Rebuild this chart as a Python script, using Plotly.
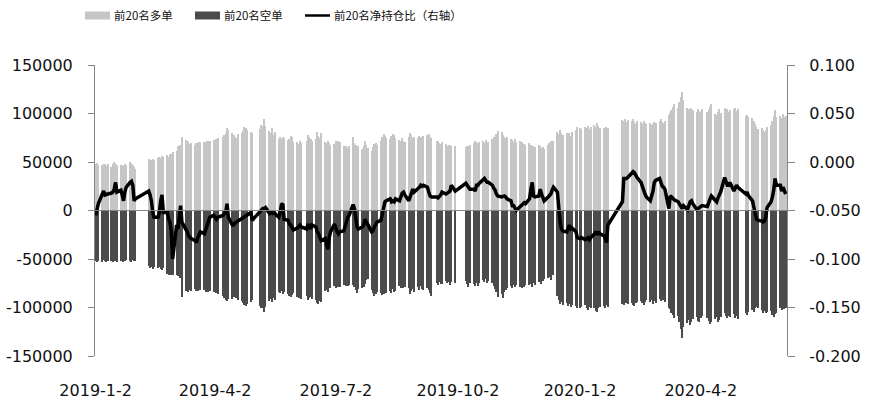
import pandas as pd
import plotly.graph_objects as go

# ---------------- data ----------------
holidays = [
    "2019-02-04", "2019-02-05", "2019-02-06", "2019-02-07", "2019-02-08",
    "2019-04-05", "2019-05-01", "2019-05-02", "2019-05-03", "2019-06-07",
    "2019-09-13", "2019-10-01", "2019-10-02", "2019-10-03", "2019-10-04",
    "2019-10-07", "2020-01-01", "2020-01-24", "2020-01-27", "2020-01-28",
    "2020-01-29", "2020-01-30", "2020-01-31", "2020-04-06", "2020-05-01",
    "2020-05-04", "2020-05-05",
]
all_days = pd.bdate_range("2019-01-02", "2020-06-05")
dates = [d for d in all_days if d.strftime("%Y-%m-%d") not in set(holidays)]

long_pos = [  # 前20名多单
    47500, 48500, 47000,
    46500, 48000, 47500, 46000, 48000,
    45000, 47500, 50500, 49000, 47000,
    46500, 47000, 45500, 47500, 47000,
    49500, 48500, 47000, 45000, 42500,
    53000, 51500, 52500, 53500, 52000,
    54500, 55000, 54000, 56500, 55500,
    57000, 55500, 58500, 58000, 60500,
    61500, 66000, 65500, 68000, 76000,
    72500, 71500, 70500, 69000, 70000,
    68000, 70000, 69500, 70500, 71000,
    70500, 71000, 71500, 72000, 71500,
    73000, 72500, 74000, 75000,
    76000, 78000, 80000, 85000, 83000,
    79500, 78000, 76000, 75000, 79000,
    80000, 82000, 86000, 85000, 83500,
    81000, 79500,
    84000, 88000, 87500, 94000, 87000,
    82000, 80000, 85000, 78000, 80500,
    74000, 75500, 73500, 76000, 75000,
    72500, 74000, 77000, 75500, 71000,
    70500, 69000, 71500, 70000,
    72000, 78000, 75500, 73500, 72000,
    74000, 81000, 76500, 74500, 80000,
    71000, 70000, 72000, 69500, 68000,
    69000, 71500, 70000, 72000, 70500,
    66000, 65000, 67000, 64500, 66500,
    76000, 70000, 68000, 66000, 67000,
    63000, 66000, 72000, 68000, 64000,
    61000, 65000, 69000, 70000, 68000,
    72000, 76000, 78500, 77000, 75000,
    74000, 76500, 79000, 77500, 75000,
    73000, 71500, 74500, 72000, 70500,
    76000, 80000, 78000, 74500, 75500,
    75000, 77000, 76000, 74000, 76500,
    77500, 79000, 76000, 74500,
    71500, 72000, 70000, 69000, 71000,
    68500, 67000, 68000, 67500, 66000,
    67000,
    65500, 67000, 66000, 67500,
    70000, 72000, 71000, 69500, 70500,
    71500, 70000, 72500, 69000, 71000,
    74000, 76000, 73500, 79000, 82000,
    81000, 78000, 76000, 74500, 76000,
    74000, 72500, 71000, 73500, 70500,
    72000, 70500, 68000, 69000, 67500,
    69500, 68000, 66500, 67000, 65000,
    67500, 66000, 64500, 65500, 63500,
    68000, 70000, 71500, 69500, 72000,
    81000, 79000, 82500, 80000, 78000,
    80000, 78500, 79500, 77000, 80500,
    83000, 86000,
    85500, 84000,
    86500, 85000, 87000, 84500, 86000,
    88000, 86500, 90000, 87000, 85500,
    85500, 84000, 86000, 85000,
    93000, 92000, 94000, 91500, 93500,
    92000, 94500, 91000, 89500, 92500,
    91000, 89500, 92000, 90500, 89000,
    90000, 88500, 89500, 91000, 90000,
    92500, 94000, 91000, 90000, 92000,
    98000, 101000, 104000, 107000, 110000,
    106000, 112000, 117000, 122000, 114000,
    106000, 104500, 103000, 105500, 104000,
    102000, 104500, 101500, 103000, 105000,
    102000, 104000, 106500, 110000,
    100000, 98500, 102000, 104500, 101000,
    106000, 103500, 105000, 102000, 104000,
    104500, 106000, 103000, 105000,
    97000, 98500, 96000,
    95000, 92000, 89000, 86000, 84500,
    85000, 83000, 81000, 82500, 86000,
    88000, 92000, 97000, 104000, 96000,
    97500, 95000, 99000, 96500, 97000,
]

short_pos = [  # 前20名空单
    -52000, -53500, -52500,
    -53000, -51500, -52000, -53500, -52000,
    -52500, -53000, -51000, -52000, -53500,
    -52000, -51500, -53000, -52500, -51000,
    -52000, -53000, -51500, -52000, -52500,
    -57500, -59000, -58500, -60000, -58000,
    -59500, -58000, -60500, -61000, -59000,
    -65000, -66000, -64500, -67000, -66500,
    -66000, -67500, -68000, -70000, -89000,
    -83000, -82000, -84000, -81500, -82500,
    -81000, -82500, -83000, -81500, -82000,
    -82000, -83500, -82500, -84000, -83000,
    -84500, -83000, -85000, -86000,
    -88000, -90000, -92500, -93000, -91000,
    -91500, -89000, -88000, -90500, -92000,
    -93000, -95500, -97000, -98000, -96000,
    -94000, -92500,
    -98000, -101000, -100000, -104500, -99000,
    -93000, -91500, -94000, -90000, -92000,
    -84000, -85500, -83000, -86000, -84500,
    -86000, -88000, -89000, -87000, -85500,
    -89000, -90500, -88000, -91000,
    -88500, -92000, -90000, -89000, -91000,
    -92000, -95500, -96000, -93000, -94500,
    -83000, -81500, -84000, -80000, -79500,
    -78000, -80000, -77500, -79000, -78500,
    -77000, -76000, -77500, -78000, -76500,
    -77000, -79000, -82000, -85000, -81000,
    -80000, -78500, -76000, -72000, -70500,
    -82000, -85000, -88000, -86000, -84000,
    -85000, -87000, -86000, -84500, -85500,
    -83000, -85500, -81000, -84000, -82500,
    -78000, -79500, -77500, -80000, -78500,
    -80000, -86000, -83000, -81000, -84000,
    -79000, -81500, -78000, -80500, -82000,
    -80000, -82000, -85000, -88500,
    -75000, -76500, -74000, -75500, -76000,
    -73000, -75000, -74000, -76500, -73500,
    -75000,
    -73000, -76000, -78500, -75000,
    -76000, -78000, -75000, -77500, -74500,
    -72000, -73500, -71000, -74500, -73000,
    -75000, -78000, -80500, -84000, -89000,
    -86000, -90500, -84000, -82000, -80000,
    -78000, -80000, -76500, -79000, -77000,
    -78500, -80000, -77000, -79000, -76500,
    -77000, -76000, -78500, -75000, -76500,
    -74000, -72000, -75500, -73000, -71000,
    -70000, -68500, -71500, -67000, -66000,
    -88000, -92000, -96000, -94000, -97000,
    -95000, -98000, -96500, -99000, -97000,
    -98000, -100000,
    -101000, -99000,
    -97000, -100500, -103000, -99500, -101000,
    -100000, -103500, -104500, -101000, -99000,
    -98000, -100500, -97000, -99000,
    -96000, -97500, -94500, -95000, -96500,
    -95500, -97000, -98500, -95000, -94000,
    -93000, -95500, -97000, -94000, -92500,
    -94000, -92500, -96000, -93500, -95000,
    -91000, -93500, -90500, -92000, -94000,
    -100000, -102000, -105500, -108000, -111000,
    -109000, -115000, -122000, -131000, -120000,
    -116000, -113000, -118000, -114500, -112000,
    -110000, -113500, -115000, -111000, -109000,
    -111000, -114000, -117500, -115000,
    -112000, -109500, -115000, -113000, -110000,
    -106000, -109000, -111000, -108500, -110000,
    -107000, -110500, -109000, -111500,
    -106000, -108000, -105000,
    -103000, -104500, -101000, -99000, -100500,
    -103000, -105500, -104000, -106000, -104500,
    -104000, -108000, -110000, -107000, -106000,
    -101000, -103000, -99500, -102000, -100000,
]

net_ratio = [  # 前20名净持仓比（右轴）
    -0.055, -0.050, -0.043,
    -0.033, -0.030, -0.034, -0.033, -0.033,
    -0.032, -0.031, -0.028, -0.021, -0.031,
    -0.029, -0.034, -0.040, -0.031, -0.026,
    -0.021, -0.020, -0.024, -0.040, -0.038,
    -0.030, -0.034, -0.040, -0.052, -0.057,
    -0.057, -0.052, -0.040, -0.034, -0.052,
    -0.052, -0.059, -0.062, -0.072, -0.100,
    -0.065, -0.069, -0.057, -0.045, -0.062,
    -0.069, -0.072, -0.076, -0.078, -0.079,
    -0.081, -0.083, -0.078, -0.074, -0.072,
    -0.074, -0.069, -0.065, -0.062, -0.057,
    -0.055, -0.057, -0.059, -0.057,
    -0.055, -0.053, -0.052, -0.043, -0.057,
    -0.065, -0.065, -0.063, -0.062, -0.061,
    -0.059, -0.057, -0.057, -0.055, -0.054,
    -0.052, -0.060,
    -0.050, -0.049, -0.048, -0.048, -0.047,
    -0.053, -0.052, -0.053, -0.052, -0.053,
    -0.057, -0.052, -0.044, -0.043, -0.059,
    -0.060, -0.064, -0.065, -0.067, -0.070,
    -0.068, -0.066, -0.065, -0.067,
    -0.069, -0.064, -0.067, -0.069, -0.065,
    -0.067, -0.072, -0.074, -0.078, -0.081,
    -0.079, -0.084, -0.090, -0.078, -0.072,
    -0.064, -0.069, -0.072, -0.074, -0.072,
    -0.071, -0.065, -0.062, -0.057, -0.055,
    -0.044, -0.048, -0.059, -0.067, -0.069,
    -0.067, -0.065, -0.059, -0.062, -0.064,
    -0.072, -0.071, -0.067, -0.065, -0.062,
    -0.060, -0.053, -0.047, -0.041, -0.040,
    -0.038, -0.041, -0.040, -0.041, -0.038,
    -0.040, -0.034, -0.032, -0.031, -0.034,
    -0.040, -0.036, -0.030, -0.028, -0.031,
    -0.028, -0.026, -0.024, -0.025, -0.024,
    -0.026, -0.031, -0.035, -0.036,
    -0.036, -0.037, -0.036, -0.034, -0.031,
    -0.033, -0.032, -0.031, -0.030, -0.024,
    -0.030,
    -0.022, -0.024, -0.026, -0.028,
    -0.028, -0.030, -0.024, -0.024, -0.022,
    -0.019, -0.017, -0.019, -0.021, -0.021,
    -0.024, -0.027, -0.029, -0.033, -0.035,
    -0.036, -0.035, -0.035, -0.036, -0.038,
    -0.040, -0.045, -0.045, -0.048, -0.050,
    -0.046, -0.045, -0.043, -0.042, -0.043,
    -0.038, -0.028, -0.021, -0.035, -0.036,
    -0.035, -0.028, -0.033, -0.038, -0.040,
    -0.036, -0.035, -0.033, -0.029, -0.026,
    -0.031, -0.048, -0.062, -0.069, -0.071,
    -0.072, -0.067, -0.065, -0.069, -0.068,
    -0.072, -0.078,
    -0.079, -0.078,
    -0.080, -0.079, -0.078, -0.080, -0.078,
    -0.074, -0.072, -0.075, -0.072, -0.074,
    -0.076, -0.078, -0.083, -0.065,
    -0.041, -0.017, -0.017, -0.017, -0.016,
    -0.012, -0.010, -0.011, -0.014, -0.016,
    -0.021, -0.024, -0.029, -0.033, -0.036,
    -0.040, -0.035, -0.030, -0.021, -0.019,
    -0.017, -0.021, -0.025, -0.026, -0.028,
    -0.048, -0.035, -0.036, -0.038, -0.039,
    -0.041, -0.044, -0.046, -0.048, -0.045,
    -0.049, -0.045, -0.041, -0.040, -0.043,
    -0.049, -0.048, -0.047, -0.046, -0.045,
    -0.046, -0.041, -0.038, -0.035,
    -0.040, -0.041, -0.037, -0.033, -0.031,
    -0.016, -0.021, -0.024, -0.024, -0.021,
    -0.030, -0.027, -0.024, -0.026,
    -0.033, -0.031, -0.035,
    -0.040, -0.045, -0.053, -0.059, -0.060,
    -0.061, -0.062, -0.061, -0.057, -0.047,
    -0.041, -0.036, -0.029, -0.017, -0.024,
    -0.024, -0.030, -0.026, -0.029, -0.033,
]

x_tick_vals = ["2019-01-02", "2019-04-02", "2019-07-02", "2019-10-02", "2020-01-02", "2020-04-02"]
x_tick_text = ["2019-1-2", "2019-4-2", "2019-7-2", "2019-10-2", "2020-1-2", "2020-4-2"]
y1_ticks = [-150000, -100000, -50000, 0, 50000, 100000, 150000]
y2_ticks = [-0.2, -0.15, -0.1, -0.05, 0.0, 0.05, 0.1]
series_names = ["前20名多单", "前20名空单", "前20名净持仓比（右轴）"]

n = min(len(dates), len(long_pos), len(short_pos), len(net_ratio))
dates = dates[:n]

# ---------------- style ----------------
LIGHT = "#C6C6C6"
DARK = "#4B4B4B"
AXIS = "#868686"
TICKFONT = dict(family="DejaVu Sans", size=16, color="#111111")
DAY_MS = 86400000

fig = go.Figure()
fig.add_trace(go.Bar(x=dates, y=long_pos[:n], name=series_names[0], marker=dict(color=LIGHT, line=dict(width=0)),
                     width=[DAY_MS * 0.92] * n))
fig.add_trace(go.Bar(x=dates, y=short_pos[:n], name=series_names[1], marker=dict(color=DARK, line=dict(width=0)),
                     width=[DAY_MS * 0.92] * n))
fig.add_trace(go.Scatter(x=dates, y=net_ratio[:n], name=series_names[2], yaxis="y2", mode="lines",
                         line=dict(color="#000000", width=3.5)))

L, R, T, B = 95, 787, 65, 356
W, H = 869, 408


def px(xp):  # page pixel -> paper x
    return (xp - L) / (R - L)


def py(yp):  # page pixel -> paper y
    return (B - yp) / (B - T)


fig.update_layout(
    template="none",
    width=W, height=H,
    margin=dict(l=L, r=W - R, t=T, b=H - B, pad=0, autoexpand=False),
    paper_bgcolor="white", plot_bgcolor="white",
    barmode="relative", bargap=0, showlegend=False, hovermode=False,
    xaxis=dict(type="date", range=["2019-01-01 12:00", "2020-06-06 00:00"], automargin=False,
               tickvals=x_tick_vals, ticktext=x_tick_text, tickfont=TICKFONT,
               showline=False, showgrid=False, zeroline=False,
               ticks="outside", ticklen=20, tickcolor="rgba(0,0,0,0)"),
    yaxis=dict(range=[-150000, 150000], tickvals=y1_ticks, ticktext=[str(v) for v in y1_ticks],
               automargin=False, tickfont=TICKFONT, showline=True, linecolor=AXIS, linewidth=1,
               ticks="outside", ticklen=6, tickcolor=AXIS, ticklabelstandoff=12,
               showgrid=False, zeroline=False),
    yaxis2=dict(range=[-0.2, 0.1], overlaying="y", side="right", tickvals=y2_ticks, automargin=False,
                ticktext=["%.3f" % v for v in y2_ticks], tickfont=TICKFONT,
                showline=True, linecolor=AXIS, linewidth=1,
                ticks="outside", ticklen=7, tickcolor=AXIS, ticklabelstandoff=11,
                showgrid=False, zeroline=False),
)

# zero (category axis) line
fig.add_shape(type="line", xref="paper", yref="y", x0=0, x1=1, y0=0, y1=0,
              line=dict(color=AXIS, width=1), layer="above")

# custom legend
LEGFONT = dict(family="Noto Sans CJK SC", size=11.5, color="#111111")
ly = 15.5
legend_items = [(85, 110, "box", LIGHT, 112), (195, 220, "box", DARK, 222), (305, 330, "line", "#000000", 332)]
for (x0, x1, kind, col, tx), name in zip(legend_items, series_names):
    if kind == "box":
        fig.add_shape(type="rect", xref="paper", yref="paper", x0=px(x0), x1=px(x1),
                      y0=py(ly + 4), y1=py(ly - 4), fillcolor=col, line=dict(width=0))
    else:
        fig.add_shape(type="line", xref="paper", yref="paper", x0=px(x0), x1=px(x1),
                      y0=py(ly), y1=py(ly), line=dict(color=col, width=2.5))
    fig.add_annotation(xref="paper", yref="paper", x=px(tx), y=py(ly), text=name, showarrow=False,
                       xanchor="left", yanchor="middle", font=LEGFONT)

fig.write_html("out.html", config={"displayModeBar": False},
               post_script="document.body.style.margin='0';document.body.style.overflow='hidden';")
